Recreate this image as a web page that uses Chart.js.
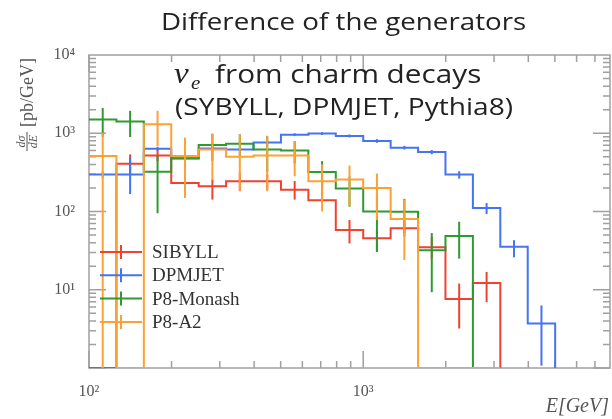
<!DOCTYPE html>
<html>
<head>
<meta charset="utf-8">
<script src="https://cdn.jsdelivr.net/npm/chart.js@4"></script>
<style>
  body { margin: 0; background: #fff; }
</style>
</head>
<body>
<canvas id="myChart" width="612" height="419"></canvas>
<script>
// bin edges in GeV (0.1 decade bins)
var binEdges = [100, 125.9, 158.5, 199.5, 251.2, 316.2, 398.1, 501.2, 631, 794.3, 1000, 1259, 1585, 1995, 2512, 3162, 3981, 5012]

var seriesNames = ['SIBYLL', 'DPMJET', 'P8-Monash', 'P8-A2']
var seriesColors = ['#ee4331', '#4474f3', '#2f9a32', '#fca136']

// dsigma/dE per bin [pb/GeV], 0 = empty bin
var sibyll   = [0, 407, 521, 232, 210, 243, 243, 190, 139, 58, 45.5, 61, 35, 7.6, 12.2]
var sibyllLo = [0, 300, 440, 190, 142, 185, 190, 142, 145, 39, 30.5, 48, 25, 3.2, 6.95]
var sibyllHi = [0, 537, 620, 285, 256, 315, 300, 245, 232, 78, 58, 76, 47, 12, 16.9]

var dpmjet   = [297, 297, 635, 477, 640, 622, 760, 960, 990, 925, 796, 655, 575, 297, 111, 35.5, 3.7]
var dpmjetLo = [270, 167, 600, 450, 610, 590, 725, 920, 950, 885, 755, 620, 540, 263, 93, 26, 1.07]
var dpmjetHi = [325, 486, 670, 505, 675, 655, 800, 1000, 1030, 965, 840, 690, 610, 327, 128, 43, 6.3]

var monash   = [1500, 1414, 321, 480, 707, 736, 622, 604, 320, 197, 100, 99, 32, 48.7, 0]
var monashLo = [900, 895, 95, 360, 444, 500, 320, 412, 200, 115, 30.5, 53, 9.3, 25, 0]
var monashHi = [2100, 1936, 511, 600, 970, 970, 925, 796, 440, 280, 170, 145, 53, 74, 0]

var a2   = [511, 0, 1306, 511, 622, 500, 520, 520, 243, 256, 200, 80, 0, 0, 0]
var a2Lo = [0, 0, 680, 149, 250, 181, 181, 282, 100, 116, 78, 24, 0, 0, 0]
var a2Hi = [1020, 0, 1936, 880, 996, 970, 925, 796, 400, 387, 305, 142, 0, 0, 0]

var xTicks = [100, 1000]
var yTicks = [10, 100, 1000, 10000]
var xMin = 100, xMax = 7943
var yMin = 1, yMax = 10000

var supers = { 0: '\u2070', 1: '\u00b9', 2: '\u00b2', 3: '\u00b3', 4: '\u2074' }
function powLabel(v) {
    return '10' + supers[Math.round(Math.log10(v))]
}

// pontos do histograma (degraus)
function histPoints(vals) {
    var pts = []
    vals.forEach(function(v, i) {
        pts.push({ x: binEdges[i], y: v > 0 ? v : yMin })
    })
    var n = vals.length
    pts.push({ x: binEdges[n], y: vals[n - 1] > 0 ? vals[n - 1] : yMin })
    pts.push({ x: binEdges[n], y: yMin })
    return pts
}

function makeSet(i, vals, lo, hi) {
    return {
        label: seriesNames[i],
        data: histPoints(vals),
        values: vals, errLo: lo, errHi: hi,
        borderColor: seriesColors[i],
        borderWidth: 2,
        stepped: 'before',
        pointRadius: 0,
        fill: false,
        order: 3 - i
    }
}

var frame = {
    id: 'frame',
    beforeDatasetsDraw: function(chart) {
        var ctx = chart.ctx, a = chart.chartArea
        var xs = chart.scales.x, ys = chart.scales.y
        ctx.save()
        ctx.strokeStyle = '#a0a0a0'
        ctx.lineWidth = 1.5
        ctx.strokeRect(a.left, a.top, a.right - a.left, a.bottom - a.top)
        ctx.beginPath()
        for (var n = 0; n < 4; n++) {
            for (var m = 1; m < 10; m++) {
                var py = ys.getPixelForValue(m * Math.pow(10, n))
                var len = m == 1 ? 17 : 7
                ctx.moveTo(a.left, py); ctx.lineTo(a.left + len, py)
                ctx.moveTo(a.right, py); ctx.lineTo(a.right - len, py)
            }
        }
        for (var n = 2; n < 4; n++) {
            for (var m = 1; m < 10; m++) {
                var v = m * Math.pow(10, n)
                if (v > xMax) continue
                var px = xs.getPixelForValue(v)
                var len = m == 1 ? 17 : 7
                ctx.moveTo(px, a.bottom); ctx.lineTo(px, a.bottom - len)
                ctx.moveTo(px, a.top); ctx.lineTo(px, a.top + len)
            }
        }
        ctx.stroke()
        ctx.restore()
    }
}

var errorBars = {
    id: 'errorBars',
    afterDatasetDraw: function(chart, args) {
        var ds = chart.data.datasets[args.index]
        var xs = chart.scales.x, ys = chart.scales.y, a = chart.chartArea
        var ctx = chart.ctx
        ctx.save()
        ctx.beginPath()
        ctx.rect(a.left, a.top, a.right - a.left, a.bottom - a.top)
        ctx.clip()
        ctx.strokeStyle = ds.borderColor
        ctx.lineWidth = 2
        ds.values.forEach(function(v, i) {
            if (!(v > 0)) return
            var xc = xs.getPixelForValue(Math.sqrt(binEdges[i] * binEdges[i + 1]))
            var top = ys.getPixelForValue(ds.errHi[i])
            var bot = ds.errLo[i] > 0 ? ys.getPixelForValue(ds.errLo[i]) : a.bottom + 2
            ctx.beginPath()
            ctx.moveTo(xc, top)
            ctx.lineTo(xc, bot)
            ctx.stroke()
        })
        ctx.restore()
    }
}

// texto esticado na horizontal como no slide original
function wideText(ctx, str, x, y, sx) {
    ctx.save()
    ctx.translate(x, y)
    ctx.scale(sx, 1)
    ctx.fillText(str, 0, 0)
    ctx.restore()
}

var texts = {
    id: 'texts',
    afterDraw: function(chart) {
        var ctx = chart.ctx
        ctx.save()
        ctx.fillStyle = '#222'
        ctx.textBaseline = 'alphabetic'
        ctx.textAlign = 'left'
        ctx.font = '23.5px "Open Sans"'
        wideText(ctx, 'Difference of the generators', 161, 30, 1.18)

        ctx.font = 'italic 30px "Liberation Serif"'
        wideText(ctx, '\u03bd', 174, 83, 1.1)
        ctx.font = 'italic 19px "Liberation Serif"'
        wideText(ctx, 'e', 191, 89, 1.1)
        ctx.font = '25.2px "Open Sans"'
        wideText(ctx, 'from charm decays', 215, 83, 1.18)
        ctx.font = '23.8px "Open Sans"'
        wideText(ctx, '(SYBYLL, DPMJET, Pythia8)', 175, 115, 1.18)

        // eixo y
        ctx.save()
        ctx.translate(27, 102)
        ctx.rotate(-Math.PI / 2)
        ctx.fillStyle = '#555'
        ctx.strokeStyle = '#555'
        ctx.lineWidth = 1
        ctx.beginPath()
        ctx.moveTo(-49, 0); ctx.lineTo(-30, 0)
        ctx.stroke()
        ctx.textAlign = 'center'
        ctx.font = 'italic 12px "Liberation Serif"'
        ctx.fillText('d\u03c3', -39.5, -2)
        ctx.fillText('dE', -39.5, 10)
        ctx.textAlign = 'left'
        ctx.textBaseline = 'middle'
        ctx.font = '18px "Liberation Serif"'
        ctx.fillText('[pb/GeV]', -25, 1)
        ctx.restore()

        // eixo x
        ctx.fillStyle = '#555'
        ctx.textAlign = 'right'
        ctx.font = 'italic 20px "Liberation Serif"'
        ctx.fillText('E[GeV]', 609, 412)

        // legenda
        ctx.textBaseline = 'middle'
        ctx.textAlign = 'left'
        ctx.font = '19px "Liberation Serif"'
        seriesNames.forEach(function(name, i) {
            var ly = 252 + 23.3 * i
            ctx.strokeStyle = seriesColors[i]
            ctx.lineWidth = 2
            ctx.beginPath()
            ctx.moveTo(100, ly); ctx.lineTo(142, ly)
            ctx.moveTo(121, ly - 7); ctx.lineTo(121, ly + 7)
            ctx.stroke()
            ctx.fillStyle = '#333'
            ctx.fillText(name, 152, ly + 1)
        })
        ctx.restore()
    }
}

var tickFont = { family: 'Liberation Serif', size: 16 }

var ctx = document.getElementById('myChart').getContext('2d');
var myChart = new Chart(ctx, {
    type: 'line',
    data: {
        datasets: [
            makeSet(0, sibyll, sibyllLo, sibyllHi),
            makeSet(1, dpmjet, dpmjetLo, dpmjetHi),
            makeSet(2, monash, monashLo, monashHi),
            makeSet(3, a2, a2Lo, a2Hi)
        ]
    },
    options: {
        responsive: false,
        animation: false,
        devicePixelRatio: 1,
        layout: { padding: { top: 55, right: 2, left: 0, bottom: 0 } },
        plugins: {
            legend: { display: false },
            tooltip: { enabled: false }
        },
        scales: {
            x: {
                type: 'logarithmic',
                min: xMin, max: xMax,
                afterFit: function(s) { s.height = 51 },
                afterBuildTicks: function(s) { s.ticks = xTicks.map(function(v) { return { value: v } }) },
                ticks: { callback: powLabel, font: tickFont, color: '#555', padding: 14, maxRotation: 0, autoSkip: false },
                grid: { display: false, drawTicks: false },
                border: { display: false }
            },
            y: {
                type: 'logarithmic',
                min: yMin, max: yMax,
                afterFit: function(s) { s.width = 89 },
                afterBuildTicks: function(s) { s.ticks = yTicks.map(function(v) { return { value: v } }) },
                ticks: { callback: powLabel, font: tickFont, color: '#555', padding: 14, autoSkip: false },
                grid: { display: false, drawTicks: false },
                border: { display: false }
            }
        }
    },
    plugins: [frame, errorBars, texts]
});
</script>
</body>
</html>
